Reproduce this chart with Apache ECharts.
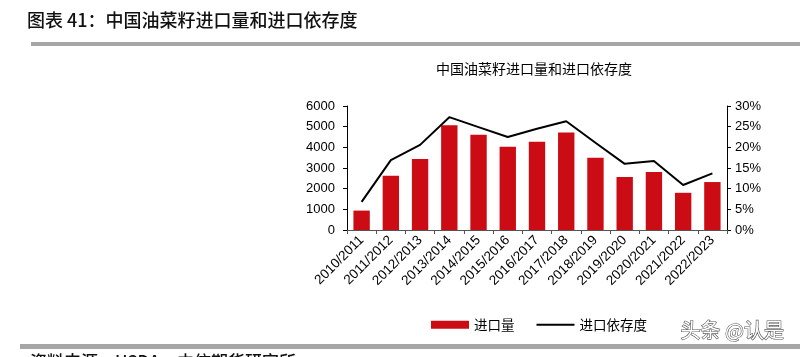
<!DOCTYPE html>
<html><head><meta charset="utf-8">
<script src="https://cdn.jsdelivr.net/npm/echarts@6/dist/echarts.min.js"></script>
<style>html,body{margin:0;padding:0;background:#fff}#c{width:800px;height:357px}</style>
</head><body><div id="c"></div>
<script>
const categories = ["2010/2011","2011/2012","2012/2013","2013/2014","2014/2015","2015/2016","2016/2017","2017/2018","2018/2019","2019/2020","2020/2021","2021/2022","2022/2023"];
const importVolume = [940, 2620, 3430, 5070, 4610, 4030, 4270, 4720, 3500, 2560, 2810, 1800, 2320];
const dependency = [6.8, 16.9, 20.6, 27.3, 24.9, 22.5, 24.5, 26.3, 21.1, 16.0, 16.7, 10.9, 13.7];
const leftTicks = [0, 6000, 1000];
const rightTicks = [0, 30, 5];

const font = '"Liberation Sans", Arial, "Noto Sans CJK SC", sans-serif';
const chart = echarts.init(document.getElementById('c'), null, {renderer: 'canvas'});
chart.setOption({
  animation: false,
  textStyle: {fontFamily: font},
  graphic: [
    {type: 'text', left: 27, top: 11, style: {text: '图表 41：中国油菜籽进口量和进口依存度', font: '500 18px "Noto Sans CJK SC", sans-serif', fill: '#111'}},
    {type: 'rect', shape: {x: 31, y: 42, width: 769, height: 4}, style: {fill: '#a6a6a6'}},
    {type: 'text', left: 436, top: 62, style: {text: '中国油菜籽进口量和进口依存度', font: '14px "Noto Sans CJK SC", sans-serif', fill: '#000'}},
    {type: 'rect', shape: {x: 20, y: 344, width: 780, height: 5}, style: {fill: '#a6a6a6'}},
    {type: 'text', left: 30, top: 353, style: {text: '资料来源：USDA、中信期货研究所', font: '500 17px "Noto Sans CJK SC", sans-serif', fill: '#111'}},
    {type: 'text', left: 680, top: 320, style: {text: '头条 @认是', font: '20px "Noto Sans CJK SC", sans-serif', fill: '#fff', stroke: '#555', lineWidth: 1.2}}
  ],
  legend: {
    left: 426, top: 313, itemGap: 22, itemWidth: 38, itemHeight: 8,
    textStyle: {fontSize: 13.5, color: '#000', fontFamily: '"Noto Sans CJK SC", sans-serif'},
    data: [{name: '进口量', icon: 'rect'}, {name: '进口依存度', icon: 'path://M0,0L38,0L38,2L0,2Z'}]
  },
  grid: {left: 347, right: 73, top: 106, bottom: 127},
  xAxis: {
    type: 'category', data: categories,
    axisLine: {lineStyle: {color: '#555', width: 1}},
    axisTick: {show: true, length: 4, lineStyle: {color: '#555'}},
    axisLabel: {rotate: 45, fontSize: 13.5, color: '#000', margin: 8, interval: 0}
  },
  yAxis: [
    {type: 'value', min: leftTicks[0], max: leftTicks[1], interval: leftTicks[2],
     axisLine: {show: true, lineStyle: {color: '#000'}},
     axisTick: {show: true, length: 4, lineStyle: {color: '#000'}},
     splitLine: {show: false},
     axisLabel: {fontSize: 13, color: '#000', margin: 12, formatter: v => String(v)}},
    {type: 'value', min: rightTicks[0], max: rightTicks[1], interval: rightTicks[2],
     axisLine: {show: true, lineStyle: {color: '#000'}},
     axisTick: {show: true, length: 4, lineStyle: {color: '#000'}},
     splitLine: {show: false},
     axisLabel: {fontSize: 13, color: '#000', margin: 8, formatter: '{value}%'}}
  ],
  series: [
    {name: '进口量', type: 'bar', data: importVolume, barWidth: '56%', itemStyle: {color: '#cc0c14'}},
    {name: '进口依存度', type: 'line', yAxisIndex: 1, data: dependency, symbol: 'none',
     lineStyle: {color: '#000', width: 2}, itemStyle: {color: '#000'}}
  ]
});
</script></body></html>
